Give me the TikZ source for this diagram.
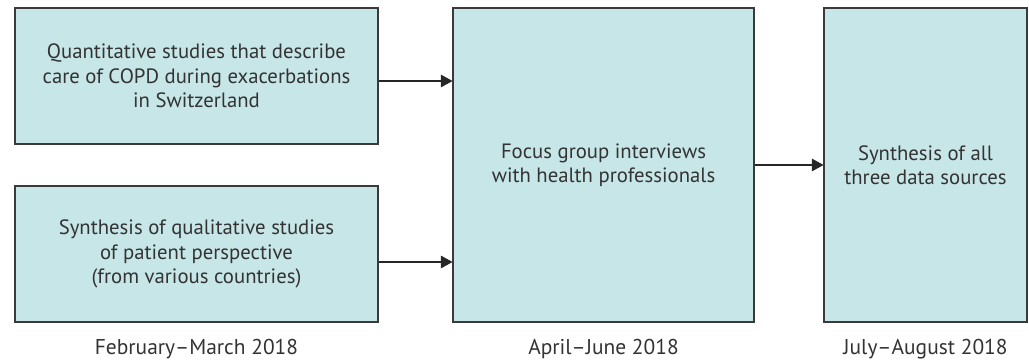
\documentclass[tikz,border=0pt]{standalone}
\usepackage{fontspec}
\setmainfont{PT Sans}
\usepackage{xcolor}
\usetikzlibrary{arrows.meta, positioning, calc}
\definecolor{boxfill}{HTML}{C7E6E8}
\definecolor{boxline}{HTML}{3A3A3A}
\definecolor{txtcol}{HTML}{333333}

\begin{document}
\begin{tikzpicture}[
  stagebox/.style={draw=boxline, line width=0.6pt, fill=boxfill, align=center,
              text=txtcol, font=\fontsize{11.8}{13.9}\selectfont, inner sep=4pt},
  datelbl/.style={text=txtcol, font=\fontsize{12.2}{14}\selectfont},
  arr/.style={-{Triangle[length=2.3mm, width=2.5mm]}, line width=0.6pt, black!85}
]
\useasboundingbox (0,0) rectangle (20.58,7.24);

\node[stagebox, minimum width=7.26cm, minimum height=2.72cm] (quant) at (3.93, 5.72)
      {Quantitative studies that describe\\ care of COPD during exacerbations\\ in Switzerland};
\node[stagebox, minimum width=7.26cm, minimum height=2.72cm] (qual) at (3.93, 2.16)
      {Synthesis of qualitative studies\\ of patient perspective\\ (from various countries)};
\node[stagebox, minimum width=6.02cm, minimum height=6.28cm] (focus) at (12.07, 3.94)
      {Focus group interviews\\ with health professionals};
\node[stagebox, minimum width=4.06cm, minimum height=6.28cm] (synth) at (18.51, 3.94)
      {Synthesis of all\\ three data sources};

\node[datelbl] (d1) at (3.93, 0.26)  {February–March 2018};
\node[datelbl] (d2) at (12.07, 0.26) {April–June 2018};
\node[datelbl] (d3) at (18.51, 0.26) {July–August 2018};

\draw[arr] ([yshift=-0.1cm]quant.east) -- ([yshift=-0.1cm]quant.east -| focus.west);
\draw[arr] ([yshift=-0.16cm]qual.east) -- ([yshift=-0.16cm]qual.east -| focus.west);
\draw[arr] (focus.east) -- (synth.west);
\end{tikzpicture}
\end{document}
